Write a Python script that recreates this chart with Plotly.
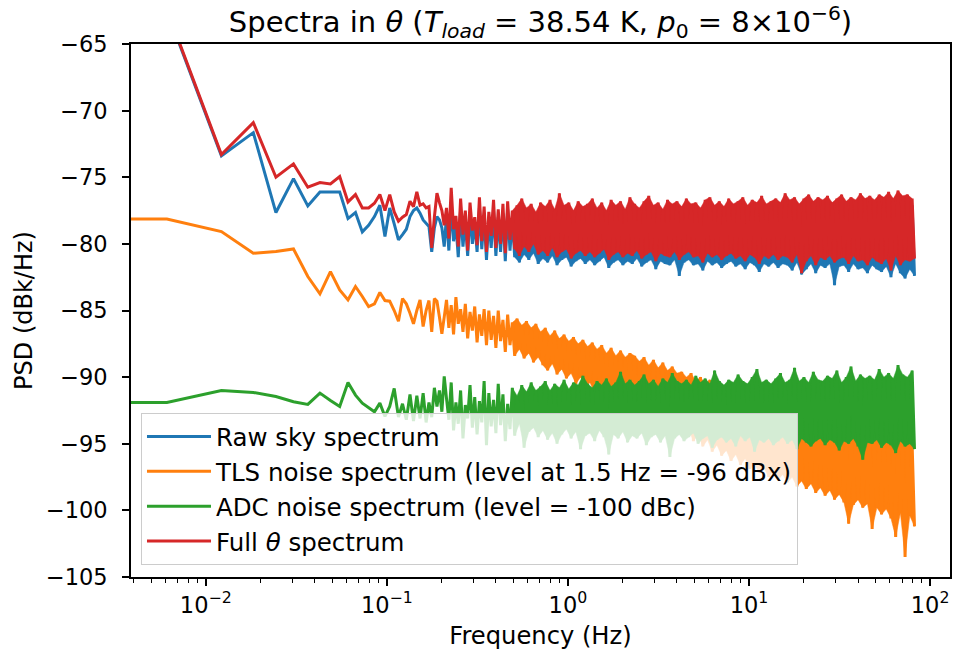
import numpy as np
import plotly.graph_objects as go

# ---------------- data ----------------
DF = 0.0061          # FFT bin width (Hz)
DC_FREQ = 0.001      # stand-in for the 0 Hz bin, drawn off-axis on the left
low_bins = list(range(1, 35))

raw_low = [-62.5, -73.4, -71.65, -77.65, -75.1, -77.15, -76.1, -76.1, -76.1, -78.1,
           -77.65, -79.1, -78.6, -77.95, -77.1, -79.45, -77.3, -78.5, -79.7, -79.3,
           -78.9, -77.95, -77.5, -77.3, -77.7, -78.2, -78.5, -78.7, -80.6, -78.8,
           -77.95, -78.2, -78.8, -80.2]
tls_low = [-78.13, -79.08, -80.7, -80.58, -80.38, -82.45, -83.75, -82.08, -83.45, -84.2,
           -83.2, -83.95, -84.7, -84.5, -83.65, -84.25, -84.3, -85.0, -85.8, -84.1,
           -84.5, -85.2, -86.0, -85.0, -84.2, -86.2, -85.0, -84.25, -86.6, -84.1,
           -84.3, -85.5, -86.75, -85.5]
adc_low = [-91.9, -91.0, -91.15, -91.45, -91.85, -92.05, -91.2, -91.75, -92.2, -90.4,
           -91.35, -91.95, -92.3, -92.6, -91.95, -92.95, -92.2, -90.85, -93.0, -92.0,
           -93.2, -91.3, -93.3, -91.4, -93.1, -91.2, -93.4, -91.9, -93.0, -90.8,
           -92.2, -91.0, -92.6, -89.95]
full_low = [-62.4, -73.3, -70.9, -75.0, -74.0, -75.75, -75.4, -75.5, -74.95, -76.85,
            -76.3, -77.3, -77.3, -76.95, -76.3, -77.5, -76.3, -77.6, -78.3, -78.0,
            -77.8, -76.8, -77.2, -76.1, -77.1, -77.0, -77.3, -77.2, -80.3, -78.0,
            -76.2, -76.9, -77.5, -78.6]

# dense part of the spectra (0.21 - 82 Hz): alternating local maxima / minima
BAND_START, BAND_END = 0.2135, 82.0
FILL_FROM = 14        # pair index from which the trace is a solid band

full_hi = [-77.3, -75.8, -77.9, -76.6, -77.5, -76.9, -78.0, -76.5, -77.2, -77.6,
           -76.7, -77.4, -77.0, -76.8, -77.5, -77.1, -76.6, -77.3, -77.0, -77.6,
           -76.9, -77.2, -76.7, -77.4, -76.2, -77.1, -76.9, -77.5, -76.8, -77.2,
           -77.0, -76.6, -77.3, -76.9, -77.5, -76.7, -77.1, -76.8, -77.4, -76.5,
           -77.0, -77.3, -76.8, -76.4, -77.1, -76.9, -77.4, -76.7, -77.0, -76.8,
           -77.2, -76.6, -77.0, -76.9, -77.3, -76.7, -76.5, -77.1, -76.8, -77.2,
           -76.6, -77.0, -76.8, -76.5, -77.1, -76.7, -76.9, -76.4, -77.0, -76.8,
           -76.6, -76.9, -76.2, -76.7, -76.5, -77.0, -76.6, -76.3, -76.8, -76.5,
           -76.7, -76.4, -76.9, -76.6, -76.3, -76.8, -76.5, -76.7, -76.2, -76.6,
           -76.4, -76.7, -76.3, -76.5, -76.1, -76.6, -76.0, -76.4, -76.3, -76.6]
full_lo = [-79.6, -78.9, -80.2, -79.3, -80.5, -79.0, -80.1, -79.8, -80.6, -79.4,
           -80.3, -80.0, -80.7, -79.7, -80.4, -80.9, -80.2, -80.6, -80.0, -80.8,
           -80.5, -80.9, -80.3, -81.0, -80.6, -80.4, -81.1, -80.7, -80.5, -80.9,
           -80.6, -81.0, -80.7, -80.4, -81.2, -80.8, -80.6, -81.0, -80.7, -80.9,
           -80.5, -81.1, -80.8, -80.6, -81.3, -80.7, -80.9, -81.0, -80.6, -81.2,
           -80.8, -80.6, -81.0, -80.9, -81.4, -80.7, -81.0, -80.8, -81.2, -80.9,
           -80.7, -81.1, -80.9, -81.3, -80.8, -81.0, -81.5, -80.9, -81.1, -80.8,
           -81.2, -80.9, -81.0, -81.4, -80.8, -82.2, -81.3, -80.9, -81.6, -81.0,
           -81.2, -80.9, -81.4, -81.1, -81.0, -81.5, -80.9, -81.3, -81.2, -81.6,
           -81.0, -81.3, -81.5, -81.1, -82.0, -80.9, -81.6, -81.2, -81.3, -81.1]

raw_hi = [-77.9, -77.0, -78.5, -77.4, -78.2, -77.6, -78.4, -77.3, -77.9, -78.1,
          -77.5, -78.0, -77.7, -77.4, -78.1, -77.8, -77.3, -77.9, -77.6, -78.0,
          -77.5, -77.8, -77.3, -77.9, -77.0, -77.6, -77.4, -77.9, -77.3, -77.7,
          -77.5, -77.2, -77.8, -77.4, -77.9, -77.3, -77.6, -77.4, -77.8, -77.1,
          -77.5, -77.8, -77.3, -77.0, -77.6, -77.4, -77.9, -77.2, -77.5, -77.3,
          -77.7, -77.1, -77.5, -77.4, -77.8, -77.2, -77.0, -77.6, -77.3, -77.7,
          -77.1, -77.5, -77.3, -77.0, -77.6, -77.2, -77.4, -76.9, -77.5, -77.3,
          -77.1, -77.4, -76.8, -77.2, -77.0, -77.5, -77.1, -76.9, -77.3, -77.0,
          -77.2, -76.9, -77.4, -77.1, -76.8, -77.3, -77.0, -77.2, -76.7, -77.1,
          -76.9, -77.2, -76.8, -77.0, -76.6, -77.1, -76.5, -76.9, -76.8, -77.1]
raw_lo = [-80.5, -79.8, -81.0, -80.2, -80.9, -80.0, -80.6, -80.4, -81.2, -80.3,
          -80.9, -80.6, -81.3, -80.5, -81.0, -81.4, -80.8, -81.2, -80.7, -81.5,
          -81.1, -81.4, -80.9, -81.6, -81.2, -81.0, -81.7, -81.3, -81.1, -81.5,
          -81.2, -81.6, -81.3, -81.0, -81.8, -81.4, -81.2, -81.6, -81.3, -81.5,
          -81.1, -81.7, -81.4, -81.2, -81.9, -81.3, -81.5, -81.6, -81.2, -82.4,
          -81.4, -81.2, -81.6, -81.5, -82.0, -81.3, -81.6, -81.4, -81.8, -81.5,
          -81.3, -81.7, -81.5, -81.9, -81.4, -81.6, -82.1, -81.5, -81.7, -81.4,
          -81.8, -81.5, -81.6, -82.0, -81.4, -82.3, -81.9, -81.5, -82.2, -81.6,
          -81.8, -81.5, -83.1, -81.7, -81.6, -82.1, -81.5, -81.9, -81.8, -82.2,
          -81.6, -81.9, -82.1, -81.7, -82.5, -81.5, -82.2, -82.6, -81.9, -82.4]

tls_hi = [-84.2, -84.6, -84.0, -84.9, -84.5, -85.1, -84.7, -85.3, -84.9, -85.0,
          -85.4, -85.0, -85.7, -85.3, -85.9, -85.6, -86.1, -85.8, -86.3, -86.0,
          -86.6, -86.3, -86.9, -86.5, -87.1, -86.8, -87.3, -87.0, -87.5, -87.2,
          -87.7, -87.4, -87.9, -87.6, -88.2, -87.8, -88.4, -88.0, -88.5, -88.2,
          -88.4, -88.8, -88.5, -89.1, -88.7, -89.3, -88.9, -89.5, -89.2, -89.7,
          -89.6, -90.0, -89.7, -90.3, -90.0, -90.5, -90.2, -90.8, -90.4, -91.0,
          -90.8, -91.2, -91.0, -91.5, -91.2, -91.7, -91.4, -91.9, -91.6, -92.1,
          -92.0, -92.4, -92.1, -92.6, -92.3, -92.8, -92.5, -93.0, -92.7, -93.2,
          -93.0, -93.4, -93.2, -93.6, -93.3, -93.8, -93.5, -94.0, -93.7, -94.1,
          -93.9, -94.3, -94.1, -94.6, -94.3, -94.8, -94.5, -95.0, -94.7, -95.0]
tls_lo = [-86.3, -86.8, -86.0, -86.6, -87.1, -86.5, -87.4, -86.9, -87.6, -87.2,
          -87.8, -87.3, -88.1, -87.6, -88.4, -87.9, -88.6, -88.2, -88.9, -88.5,
          -89.1, -89.5, -89.0, -89.8, -89.4, -90.1, -89.7, -90.5, -90.0, -90.8,
          -90.4, -91.2, -90.7, -91.0, -91.5, -91.1, -91.8, -91.4, -92.1, -91.7,
          -92.4, -92.0, -92.8, -92.4, -93.2, -92.8, -93.6, -93.1, -94.0, -93.5,
          -94.4, -93.9, -94.8, -94.3, -95.2, -94.7, -95.6, -95.1, -95.9, -95.5,
          -96.3, -95.8, -96.6, -96.1, -96.9, -96.5, -97.2, -96.8, -97.5, -97.0,
          -97.7, -97.3, -97.9, -97.5, -98.2, -97.8, -98.4, -98.0, -98.7, -98.3,
          -98.9, -98.5, -99.2, -98.8, -99.4, -101.0, -99.6, -99.2, -99.8, -99.5,
          -101.4, -99.8, -100.3, -99.9, -100.6, -102.0, -100.2, -103.5, -100.4, -101.2]

adc_hi = [-91.6, -90.4, -91.9, -91.0, -92.1, -90.6, -91.5, -91.8, -90.3, -91.2,
          -91.7, -90.5, -91.3, -92.0, -90.8, -91.4, -90.6, -91.1, -90.4, -91.0,
          -90.7, -90.3, -91.0, -90.5, -90.8, -90.2, -90.9, -90.4, -90.6, -89.9,
          -90.5, -90.8, -90.3, -90.6, -90.1, -90.7, -90.4, -89.6, -90.5, -90.2,
          -90.6, -90.3, -89.8, -90.5, -90.2, -90.7, -90.1, -90.4, -89.7, -90.3,
          -90.5, -90.2, -90.6, -89.9, -90.4, -90.1, -90.5, -89.5, -90.3, -90.6,
          -90.2, -90.4, -89.8, -90.3, -90.5, -90.0, -89.4, -90.4, -90.2, -90.5,
          -90.1, -89.7, -90.4, -90.2, -89.3, -90.3, -90.0, -90.4, -89.6, -90.2,
          -90.3, -89.9, -90.1, -89.5, -90.4, -90.0, -89.2, -90.3, -89.8, -90.1,
          -89.9, -90.2, -89.4, -90.0, -89.7, -90.1, -89.1, -89.8, -90.0, -89.5]
adc_lo = [-93.2, -94.0, -93.5, -94.6, -93.1, -93.8, -94.3, -93.4, -95.1, -93.7,
          -94.2, -93.6, -94.8, -93.9, -94.4, -93.5, -95.3, -94.1, -93.8, -94.5,
          -94.0, -94.7, -94.2, -95.0, -94.3, -93.9, -94.6, -94.1, -95.4, -94.4,
          -94.2, -94.8, -94.0, -94.5, -95.8, -94.3, -94.6, -94.1, -94.9, -94.4,
          -94.6, -94.2, -95.1, -94.5, -94.3, -94.9, -94.4, -96.0, -94.6, -94.3,
          -94.8, -94.5, -94.2, -95.0, -94.6, -94.4, -95.3, -94.7, -94.5, -94.9,
          -94.6, -95.2, -94.4, -94.8, -94.5, -95.6, -94.7, -94.9, -94.6, -95.1,
          -94.8, -94.5, -95.0, -94.7, -95.4, -94.6, -94.9, -95.2, -94.8, -94.6,
          -95.1, -94.7, -94.9, -95.5, -94.8, -95.0, -94.6, -95.2, -96.2, -94.9,
          -95.0, -94.7, -95.3, -94.9, -95.1, -95.7, -94.8, -95.2, -95.0, -95.4]

names = ["Raw sky spectrum",
         "TLS noise spectrum (level at 1.5 Hz = -96 dBx)",
         "ADC noise spectrum (level = -100 dBc)",
         "Full <i>θ</i> spectrum"]
colors = ["#1f77b4", "#ff7f0e", "#2ca02c", "#d62728"]

# ---------------- build series ----------------
low_freqs = [DF * k for k in low_bins]
band_freqs = list(np.geomspace(BAND_START, BAND_END, 2 * len(full_hi)))
freqs = [DC_FREQ] + low_freqs + band_freqs
hi_freqs = band_freqs[0::2]
lo_freqs = band_freqs[1::2]


def assemble(low, hi, lo):
    band = []
    for a, b in zip(hi, lo):
        band += [a, b]
    return [low[0]] + low + band


series = [(raw_low, raw_hi, raw_lo), (tls_low, tls_hi, tls_lo),
          (adc_low, adc_hi, adc_lo), (full_low, full_hi, full_lo)]

fig = go.Figure()
for i, (name, col, (low, hi, lo)) in enumerate(zip(names, colors, series)):
    # solid body of the dense part (between the local maxima and minima)
    px_ = hi_freqs[FILL_FROM:] + lo_freqs[FILL_FROM:][::-1]
    py_ = hi[FILL_FROM:] + lo[FILL_FROM:][::-1]
    fig.add_trace(go.Scatter(x=px_, y=py_, mode="lines", fill="toself",
                             fillcolor=col, line=dict(color=col, width=0.5),
                             showlegend=False, hoverinfo="skip",
                             legendgroup=f"g{i}"))
    fig.add_trace(go.Scatter(x=freqs, y=assemble(low, hi, lo), mode="lines",
                             name=name, legendgroup=f"g{i}",
                             line=dict(color=col, width=3)))

FONT = "DejaVu Sans"
minor_vals = [m * 10.0 ** e for e in range(-3, 3) for m in range(2, 10)]
yt = list(range(-65, -106, -5))

fig.update_layout(
    width=956, height=659,
    margin=dict(l=131, r=4, t=44, b=82),
    paper_bgcolor="white", plot_bgcolor="white",
    font=dict(family=FONT, size=22.5, color="black"),
    title=dict(
        text="Spectra in <i>θ</i> (<i>T</i><sub><i>load</i></sub> = 38.54 K, "
             "<i>p</i><sub>0</sub> = 8×10<sup>−6</sup>)",
        x=0.5, xref="paper", xanchor="center",
        y=1 - 22 / 659, yref="container", yanchor="middle",
        font=dict(family=FONT, size=29, color="black")),
    showlegend=True,
    legend=dict(x=0.0122, y=0.0225, xanchor="left", yanchor="bottom",
                bgcolor="rgba(255,255,255,0.8)", bordercolor="#cccccc",
                borderwidth=1, tracegroupgap=0, itemwidth=64,
                font=dict(family=FONT, size=24.5, color="black")),
)
fig.update_xaxes(
    type="log", range=[-2.413, 2.110],
    showgrid=False, zeroline=False,
    showline=True, linecolor="black", linewidth=1.6, mirror=True,
    ticks="outside", ticklen=7, tickwidth=1.6, tickcolor="black",
    tickvals=[0.01, 0.1, 1, 10, 100],
    ticktext=["10<sup>−2</sup>", "10<sup>−1</sup>", "10<sup>0</sup>",
              "10<sup>1</sup>", "10<sup>2</sup>"],
    minor=dict(tickvals=minor_vals, ticks="outside", ticklen=4,
               tickwidth=1.2, tickcolor="black", showgrid=False),
    title=dict(text="Frequency (Hz)", standoff=10,
               font=dict(family=FONT, size=24.2, color="black")),
)
fig.update_yaxes(
    range=[-105, -65],
    showgrid=False, zeroline=False,
    showline=True, linecolor="black", linewidth=1.6, mirror=True,
    ticks="outside", ticklen=7, tickwidth=1.6, tickcolor="black",
    ticklabelstandoff=10,
    tickvals=yt, ticktext=[f"−{abs(v)}" for v in yt],
    title=dict(text="PSD (dBk/Hz)", standoff=6,
               font=dict(family=FONT, size=24, color="black")),
)

fig.write_html("out.html")
